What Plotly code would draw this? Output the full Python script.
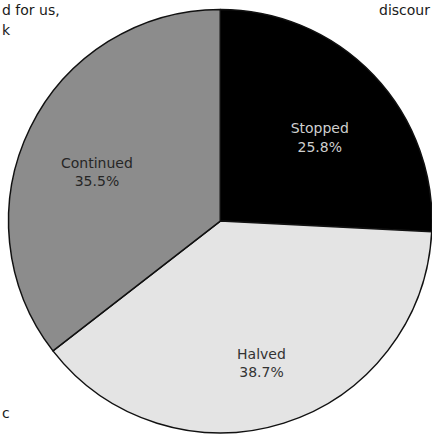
import plotly.graph_objects as go

labels = ["Stopped", "Halved", "Continued"]
values = [25.8, 38.7, 35.5]
colors = ["#000000", "#e4e4e4", "#8c8c8c"]
text_colors = ["#cfcfcf", "#333333", "#262626"]

fragments = ["d for us,", "discour", "k", "c"]

pie_domain = dict(x=[0.0197, 1.0], y=[0.009, 0.979])
label_domain = dict(x=[0.0197, 1.0], y=[0.0, 0.938])

fig = go.Figure()
# filled slices
fig.add_trace(go.Pie(
    labels=labels,
    values=values,
    sort=False,
    direction="clockwise",
    rotation=0,
    marker=dict(colors=colors, line=dict(color="#111111", width=1.5)),
    textinfo="none",
    hoverinfo="label+percent",
    showlegend=False,
    domain=pie_domain,
))
# transparent ring carrying the slice labels (pushes labels outward)
fig.add_trace(go.Pie(
    labels=labels,
    values=values,
    sort=False,
    direction="clockwise",
    rotation=0,
    hole=0.34,
    marker=dict(colors=["rgba(0,0,0,0)"] * 3, line=dict(width=0)),
    texttemplate="%{label}<br>%{percent:.1%}",
    textposition="inside",
    insidetextorientation="horizontal",
    textfont=dict(family="DejaVu Sans, sans-serif", size=14, color=text_colors),
    hoverinfo="skip",
    showlegend=False,
    domain=label_domain,
))

frag_font = dict(family="DejaVu Sans, sans-serif", size=14, color="#1a1a1a")
fig.add_annotation(x=0.0, y=1.0, xref="paper", yref="paper", text=fragments[0],
                   showarrow=False, xanchor="left", yanchor="top", font=frag_font)
fig.add_annotation(x=1.0, y=1.0, xref="paper", yref="paper", text=fragments[1],
                   showarrow=False, xanchor="right", yanchor="top", font=frag_font)
fig.add_annotation(x=0.0, y=1.0, xref="paper", yref="paper", text=fragments[2],
                   showarrow=False, xanchor="left", yanchor="top", yshift=-20, font=frag_font)
fig.add_annotation(x=0.0, y=0.055, xref="paper", yref="paper", text=fragments[3],
                   showarrow=False, xanchor="left", yanchor="middle", font=frag_font)

fig.update_layout(
    width=432, height=437,
    margin=dict(l=0, r=0, t=0, b=0),
    paper_bgcolor="white",
    plot_bgcolor="white",
)

fig.write_html("out.html", config={"displayModeBar": False},
               post_script="document.body.style.margin='0';")
